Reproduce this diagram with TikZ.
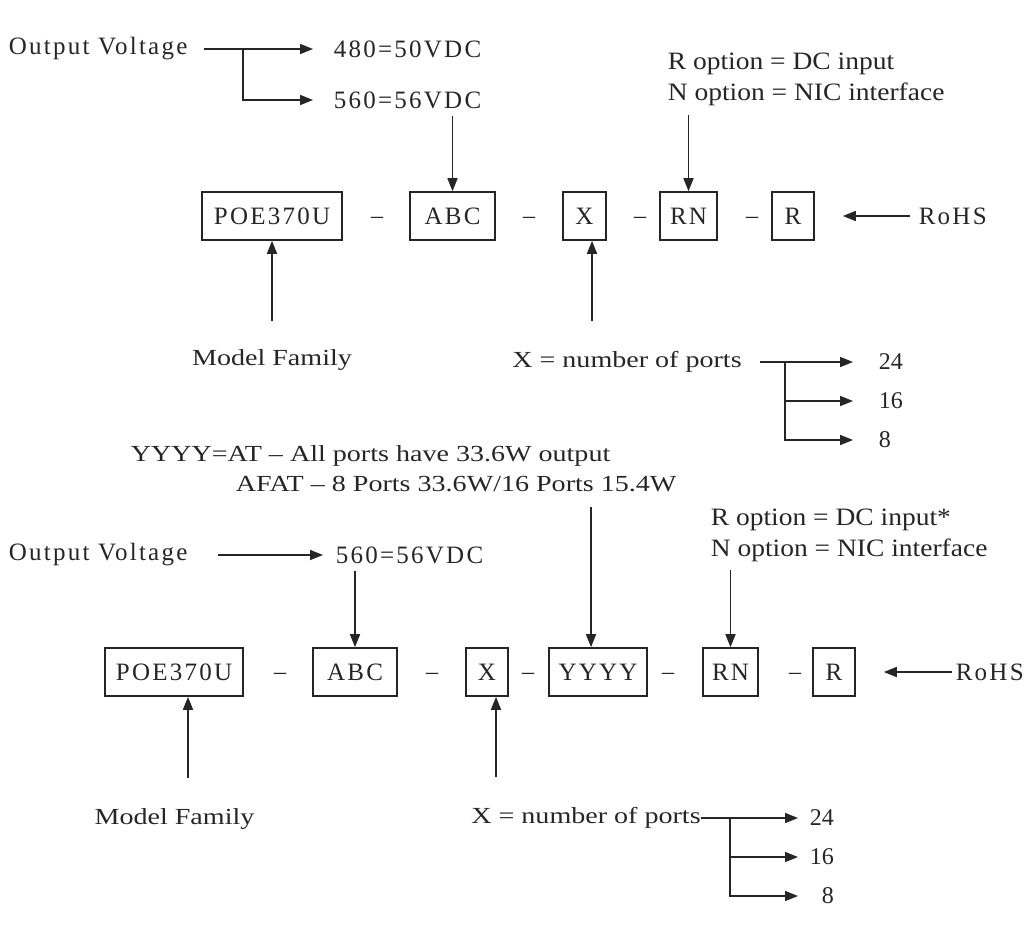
\documentclass[tikz,border=0pt]{standalone}
\usepackage{fontspec}
\setmainfont{Liberation Serif}
\newfontfamily\widefont[LetterSpace=9]{Liberation Serif}
\newfontfamily\stretchfont[FakeStretch=1.22]{Liberation Serif}
\newfontfamily\optfont[FakeStretch=1.1]{Liberation Serif}
\usetikzlibrary{arrows.meta,positioning}

\begin{document}
\begin{tikzpicture}[x=0.5pt,y=-0.5pt,color=black!85,line width=0.8pt,
    arr/.style={-{Triangle[length=6.5pt,width=5pt]}},
    wide/.style={inner sep=0pt,font=\widefont\fontsize{12.5}{15}\selectfont},
    txt/.style={inner sep=0pt,font=\stretchfont\fontsize{11.5}{15}\selectfont},
    opts/.style={inner sep=0pt,align=left,font=\optfont\fontsize{12.5}{15.5}\selectfont},
    num/.style={inner sep=0pt,text width=12.5pt,font=\fontsize{12}{14}\selectfont},
    part/.style={draw,minimum height=24pt,inner sep=0pt,font=\widefont\fontsize{12.5}{15}\selectfont},
    hyph/.style={inner sep=0pt,font=\fontsize{12}{14}\selectfont}]
  \fill[white] (0,0) rectangle (1036,936);
  \useasboundingbox (0,0) rectangle (1036,936);

  \node[wide,anchor=west] (ov1) at (8,49) {Output Voltage};
  \node[wide,anchor=west] (v480) at (333,49) {480=50VDC};
  \node[wide,anchor=west] (v560) at (333,100) {560=56VDC};
  \coordinate (br1) at (243,49);
  \node[opts,anchor=north west] (opt1) at (667,52) {R option = DC input\\N option = NIC interface};
  \node[part,minimum width=70pt] (poe1) at (272,216) {POE370U};
  \node[hyph] (h11) at (377,220) {\textendash};
  \node[part,minimum width=42.5pt] (abc1) at (452.5,216) {ABC};
  \node[hyph] (h12) at (529,220) {\textendash};
  \node[part,minimum width=21.5pt] (x1) at (584.5,216) {X};
  \node[hyph] (h13) at (640,220) {\textendash};
  \node[part,minimum width=28.5pt] (rn1) at (688.5,216) {RN};
  \node[hyph] (h14) at (752,220) {\textendash};
  \node[part,minimum width=21pt] (r1) at (793,216) {R};
  \node[wide,anchor=west] (rohs1) at (918,216) {RoHS};
  \node[txt] (mf1) at (272,360) {Model Family};
  \node[txt] (xt1) at (627,362) {X = number of ports};
  \coordinate (br2) at (785,362);
  \node[num,align=left,anchor=west] (p24) at (878,362) {24};
  \node[num,align=left,anchor=west] (p16) at (878,401) {16};
  \node[num,align=left,anchor=west] (p8) at (878,440) {8};
  \coordinate (xa1) at ([xshift=3.75pt]x1.south);

  \draw[arr,shorten <=8pt,shorten >=10pt] (ov1) -- (v480);
  \draw[arr,shorten >=10pt] (br1) |- (v560);
  \draw[arr,shorten <=3.3pt] (v560.south -| abc1) -- (abc1);
  \draw[arr,shorten <=4.5pt] (opt1.south -| rn1) -- (rn1);
  \draw[arr,shorten <=4pt,shorten >=14pt] (rohs1) -- (r1);
  \draw[arr,shorten <=13.8pt] (mf1) -- (poe1);
  \draw[arr,shorten <=14.8pt] (xa1 |- xt1.north) -- (xa1);
  \draw[arr,shorten <=9pt,shorten >=12.5pt] (xt1) -- (p24);
  \draw[arr,shorten >=12.5pt] (br2) |- (p16);
  \draw[arr,shorten >=12.5pt] (br2) |- (p8);

  \node[wide,anchor=west] (ov2) at (8,555) {Output Voltage};
  \node[wide,anchor=west] (v560b) at (335,555) {560=56VDC};
  \node[txt,align=left,anchor=north west] (yt) at (130,445) {YYYY=AT \textendash{} All ports have 33.6W output\\\hspace*{52.5pt}AFAT \textendash{} 8 Ports 33.6W/16 Ports 15.4W};
  \node[opts,anchor=north west] (opt2) at (710,508) {R option = DC input*\\N option = NIC interface};
  \node[part,minimum width=69pt] (poe2) at (174,672) {POE370U};
  \node[hyph] (h21) at (280,676) {\textendash};
  \node[part,minimum width=42pt] (abc2) at (355,672) {ABC};
  \node[hyph] (h22) at (432,676) {\textendash};
  \node[part,minimum width=21pt] (x2) at (487,672) {X};
  \node[hyph] (h23) at (528,676) {\textendash};
  \node[part,minimum width=49pt] (yyyy) at (598,672) {YYYY};
  \node[hyph] (h24) at (668,676) {\textendash};
  \node[part,minimum width=27.5pt] (rn2) at (730.5,672) {RN};
  \node[hyph] (h25) at (795,676) {\textendash};
  \node[part,minimum width=21pt] (r2) at (834,672) {R};
  \node[wide,anchor=west] (rohs2) at (955,672) {RoHS};
  \node[txt] (mf2) at (174.5,819) {Model Family};
  \node[txt] (xt2) at (586,818) {X = number of ports};
  \coordinate (br4) at (730,818);
  \node[num,align=right,anchor=west] (q24) at (808,818) {24};
  \node[num,align=right,anchor=west] (q16) at (808,857) {16};
  \node[num,align=right,anchor=west] (q8) at (808,896) {8};
  \coordinate (pa2) at ([xshift=7pt]poe2.south);
  \coordinate (xa2) at ([xshift=4.5pt]x2.south);
  \coordinate (ya) at ([xshift=-3.5pt]yyyy.north);

  \draw[arr,shorten <=15pt,shorten >=6pt] (ov2) -- (v560b);
  \draw[arr,shorten <=3.3pt] (v560b.south -| abc2) -- (abc2);
  \draw[arr,shorten <=7pt] (ya |- yt.south) -- (ya);
  \draw[arr,shorten <=4pt] (opt2.south -| rn2) -- (rn2);
  \draw[arr,shorten <=1.5pt,shorten >=14pt] (rohs2) -- (r2);
  \draw[arr,shorten <=15pt] (pa2 |- mf2.north) -- (pa2);
  \draw[arr,shorten <=15pt] (xa2 |- xt2.north) -- (xa2);
  \draw[arr,shorten >=5pt] (xt2) -- (q24);
  \draw[arr,shorten >=5pt] (br4) |- (q16);
  \draw[arr,shorten >=5pt] (br4) |- (q8);
\end{tikzpicture}
\end{document}
